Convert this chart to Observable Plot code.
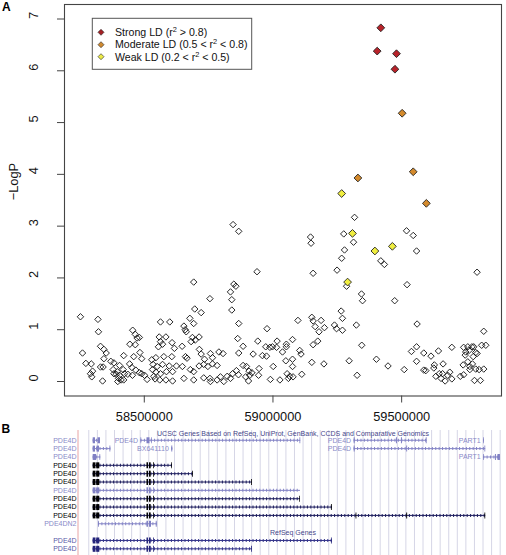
<!DOCTYPE html>
<html><head><meta charset="utf-8">
<script src="https://cdn.jsdelivr.net/npm/d3@7"></script>
<script src="https://cdn.jsdelivr.net/npm/@observablehq/plot@0.6"></script>
<style>
body{margin:0;background:#fff;font-family:"Liberation Sans",Arial,Helvetica,sans-serif;}
#wrap{position:relative;width:506px;height:555px;overflow:hidden;background:#fff;}
#a,#b{position:absolute;left:0;}
#a{top:0;} #b{top:430px;}
#over{position:absolute;left:0;top:0;pointer-events:none;}
</style></head><body>
<div id="wrap"><div id="a"></div><div id="b"></div>
<svg id="over" width="506" height="555" font-family="Liberation Sans, Arial, Helvetica, sans-serif">
  <text x="2" y="10.5" font-size="12" font-weight="bold">A</text>
  <text x="1.5" y="432.8" font-size="12" font-weight="bold">B</text>
  <rect x="92.3" y="18.3" width="159.4" height="51" fill="#fff" stroke="#555" stroke-width="1"/>
  <g font-size="10.6" fill="#111">
    <path d="M101 29.3 L104 32.3 L101 35.3 L98 32.3 Z" fill="#a52024" stroke="#222" stroke-width="0.6"/>
    <text x="115" y="36">Strong LD (r<tspan dy="-4" font-size="7.4">2</tspan><tspan dy="4"> &gt; 0.8)</tspan></text>
    <path d="M101 41.7 L104 44.7 L101 47.7 L98 44.7 Z" fill="#d08a30" stroke="#222" stroke-width="0.6"/>
    <text x="115" y="48.3">Moderate LD (0.5 &lt; r<tspan dy="-4" font-size="7.4">2</tspan><tspan dy="4"> &lt; 0.8)</tspan></text>
    <path d="M101 53.7 L104 56.7 L101 59.7 L98 56.7 Z" fill="#ecea46" stroke="#222" stroke-width="0.6"/>
    <text x="115" y="60.6">Weak LD (0.2 &lt; r<tspan dy="-4" font-size="7.4">2</tspan><tspan dy="4"> &lt; 0.5)</tspan></text>
  </g>
</svg>
</div>
<script>
// ---------- Panel A data: [position (kb), -log10 P] ----------
const strongLd = [[59419,6.83],[59405,6.38],[59480,6.33],[59474,6.03]];
const moderateLd = [[59502,5.18],[59545,4.05],[59330,3.93],[59596,3.44]];
const weakLd = [[59267,3.63],[59309,2.86],[59396,2.52],[59464,2.61],[59290,1.92]];
const otherSnps = [
 [58252,1.25],[58320,1.20],[58322,0.96],[58455,0.99],[58465,0.91],[58472,0.84],[58481,0.85],[58444,0.72],[58465,0.71],[58330,0.68],
 [58343,0.62],[58352,0.55],[58483,0.56],[58260,0.55],[58420,0.50],[58459,0.48],[58343,0.44],[58490,0.44],[58529,0.42],[58370,0.39],
 [58382,0.36],[58273,0.35],[58294,0.34],[58330,0.28],[58340,0.28],[58404,0.31],[58443,0.34],[58452,0.27],[58299,0.20],[58291,0.15],
 [58379,0.23],[58395,0.19],[58418,0.23],[58467,0.22],[58481,0.17],[58382,0.15],[58391,0.14],[58404,0.12],[58423,0.15],[58436,0.14],
 [58454,0.12],[58490,0.15],[58501,0.12],[58511,0.04],[58400,0.06],[58410,0.03],[58420,0.03],[58338,0.01],[58296,0.09],[58397,0.00],
 [58537,0.10],
 [58845,3.03],[58867,2.90],[58692,1.92],[58848,1.88],[58856,1.84],[58835,1.73],[58755,1.60],[58840,1.58],[58840,1.38],[58696,1.40],
 [58721,1.33],[58677,1.22],[58692,1.12],[58563,1.15],[58599,1.15],[58654,1.07],[58659,1.00],[58663,0.96],[58867,1.12],[58687,0.85],
 [58713,0.86],[58698,0.80],[58682,0.77],[58558,0.86],[58584,0.86],[58563,0.77],[58608,0.75],[58647,0.68],[58555,0.67],[58571,0.72],
 [58617,0.64],[58863,0.83],[58714,0.62],[58721,0.53],[58757,0.54],[58790,0.57],[58806,0.54],[58867,0.55],[58765,0.46],[58734,0.43],
 [58660,0.48],[58666,0.45],[58607,0.48],[58576,0.48],[58545,0.46],[58625,0.30],[58648,0.29],[58679,0.23],[58692,0.19],[58713,0.30],
 [58731,0.33],[58747,0.29],[58765,0.34],[58783,0.31],[58534,0.33],[58550,0.29],[58571,0.33],[58597,0.30],[58532,0.23],[58545,0.18],
 [58563,0.15],[58586,0.19],[58610,0.19],[58654,0.06],[58692,0.03],[58731,0.07],[58755,0.06],[58783,0.03],[58796,0.09],[58822,0.10],
 [58843,0.15],[58858,0.21],[58866,0.13],[58542,0.05],[58584,0.03],[58610,0.01],[58560,0.03],[58757,0.00],[58809,0.00],[58835,0.06],
 [59146,2.79],[59148,2.67],[58938,2.12],[59156,2.09],[59097,1.18],[59151,1.24],[59156,1.17],[59187,1.18],[59164,1.06],[59179,0.96],
 [59200,1.04],[58977,1.02],[59174,0.78],[59156,0.71],[58884,0.68],[58941,0.78],[59016,0.78],[58998,0.67],[59014,0.66],[58972,0.67],
 [58988,0.66],[59076,0.81],[59052,0.72],[59052,0.67],[59037,0.57],[59104,0.60],[59109,0.53],[58923,0.53],[58959,0.50],[58975,0.49],
 [58884,0.31],[58897,0.29],[58907,0.20],[58918,0.17],[58910,0.12],[58894,0.09],[58905,0.01],[58946,0.25],[58944,0.12],[59001,0.29],
 [59050,0.40],[59076,0.43],[59076,0.29],[59055,0.15],[59065,0.10],[59078,0.09],[59060,0.06],[59112,0.14],[59151,0.37],[59198,0.34],
 [58990,0.04],[59027,0.03],
 [59317,3.17],[59275,2.85],[59313,2.69],[59278,2.54],[59267,2.38],[59249,2.15],[59419,2.33],[59433,2.26],[59519,2.91],[59286,1.84],
 [59521,1.87],[59344,1.69],[59348,1.56],[59473,1.56],[59265,1.36],[59270,1.22],[59239,1.09],[59247,1.02],[59270,0.99],[59324,1.09],
 [59345,0.70],[59296,0.40],[59402,0.43],[59447,0.30],[59510,0.23],[59327,0.12],[59538,0.58],
 [59545,2.82],[59558,2.52],[59793,2.11],[59560,1.11],[59819,0.97],[59811,0.70],[59827,0.70],[59780,0.67],[59558,0.67],[59586,0.55],
 [59614,0.49],[59643,0.59],[59695,0.66],[59741,0.66],[59757,0.67],[59773,0.67],[59749,0.57],[59762,0.60],[59788,0.56],[59793,0.54],
 [59747,0.51],[59778,0.48],[59558,0.39],[59661,0.34],[59627,0.32],[59586,0.22],[59594,0.21],[59625,0.26],[59646,0.15],[59659,0.15],
 [59633,0.10],[59653,0.06],[59679,0.12],[59687,0.18],[59695,0.05],[59669,0.01],[59728,0.10],[59741,0.13],[59739,0.32],[59757,0.38],
 [59765,0.29],[59775,0.34],[59788,0.24],[59765,0.23],[59801,0.23],[59819,0.24],[59783,0.02],[59806,0.02]
];
const xTicks = [58500000, 59000000, 59500000];
const yTicks = [0, 1, 2, 3, 4, 5, 6, 7];
const yLabel = "\u2212LogP";

// ---------- Panel B data (gene tracks, positions in kb) ----------
const trackHeaders = [[-0.84, "UCSC Genes Based on RefSeq, UniProt, GenBank, CCDS and Comparative Genomics"], [11.1, "RefSeq Genes"]];
const rowNames = [[0,"PDE4D","ucsc"],[1,"PDE4D","ucsc"],[2,"PDE4D","ucsc"],[3,"PDE4D","known"],[4,"PDE4D","known"],[5,"PDE4D","known"],
  [6,"PDE4D","ucsc"],[7,"PDE4D","known"],[8,"PDE4D","known"],[9,"PDE4D","known"],[10,"PDE4DN2","ucsc"],[12,"PDE4D","refseq"],[13,"PDE4D","refseq"]];
// [row, start, end, inline label]
const geneSpans = [
  [0,58301.5,58329.9,""],[0,58487.2,59108.0,"PDE4D"],[0,59315.5,59599.1,"PDE4D"],[0,59818.9,59821.7,"PART1"],
  [1,58301.5,58369.9,""],[1,58606.9,58610.7,"BX641110"],[1,59315.5,59826.7,"PDE4D"],
  [2,58301.5,58330.6,""],[2,59818.9,59883.9,"PART1"],
  [3,58301.5,58609.2,""],[4,58301.5,58691.2,""],[5,58301.5,58920.4,""],[6,58301.5,59106.9,""],
  [7,58301.5,59106.9,""],[8,58301.5,59230.4,""],[9,58301.5,59826.7,""],[10,58322.1,58550.1,""],
  [12,58301.5,59230.4,""],[13,58301.5,58920.4,""]
];
const isoformRows = [3,4,5,6,7,8,9,12,13];
const sharedExons = [[58301.5,58312.4],[58315.1,58327.1],[58510.5,58516.3],[58520.2,58526.8],[58535.8,58538.9]];
// [row, start, end]
const otherExons = [
  [0,58301.5,58310.4],[0,58320.1,58329.9],[0,58487.2,58489.9],[0,58510.5,58522.2],[0,58529.2,58531.9],[0,59104.9,59108.0],
  [0,59315.5,59319.4],[0,59479.8,59483.7],[0,59499.2,59503.1],[0,59595.6,59599.1],[0,59818.9,59821.7],
  [1,58301.5,58310.4],[1,58316.3,58326.0],[1,58366.8,58369.9],[1,58606.9,58610.7],[1,59315.5,59319.4],[1,59519.8,59523.3],[1,59823.6,59826.7],
  [2,58301.5,58315.1],[2,58327.9,58330.6],[2,59818.9,59821.7],[2,59864.4,59868.3],[2,59874.2,59883.9],
  [3,58606.5,58609.2],[4,58688.1,58691.2],[5,58917.3,58920.4],[7,59104.1,59106.9],[8,59227.3,59230.4],
  [9,59322.9,59326.0],[9,59519.8,59523.3],[9,59823.6,59826.7],[12,59227.3,59230.4],[13,58917.3,58920.4],
  [10,58322.1,58325.2],[10,58510.5,58516.3],[10,58520.2,58528.0],[10,58546.6,58550.1]
];
const gridStartKb = 58284.4, gridStepKb = 33.3;

// ---------- build ----------
const font = "Liberation Sans, Arial, Helvetica, sans-serif";
const toBp = v => v * 1000;
const xDomain = [58190000, 59888000];
const pt = arr => arr.map(([p, v]) => ({pos: toBp(p), logP: v}));

const chartA = Plot.plot({
  width: 506, height: 430,
  marginLeft: 64, marginRight: 5, marginTop: 4, marginBottom: 34.5,
  style: {fontFamily: font, fontSize: "12.8px", background: "white", color: "#111"},
  x: {domain: xDomain},
  y: {domain: [-0.28, 7.28]},
  marks: [
    Plot.axisX({ticks: xTicks, tickSize: 7, tickPadding: 9, tickFormat: "d", label: null, stroke: "#444"}),
    Plot.axisY({ticks: yTicks, tickSize: 7, tickFormat: () => "", label: null, stroke: "#444"}),
    Plot.text(yTicks, {y: d => d, text: d => String(d), frameAnchor: "left", dx: -31, rotate: -90, fontSize: 12.8}),
    Plot.text([yLabel], {text: d => d, frameAnchor: "left", dx: -51, rotate: -90, fontSize: 12.8}),
    Plot.dot(pt(otherSnps), {x: "pos", y: "logP", symbol: "diamond2", r: 2.9, fill: "none", stroke: "#111", strokeWidth: 0.9}),
    Plot.dot(pt(weakLd), {x: "pos", y: "logP", symbol: "diamond2", r: 3.5, fill: "#f0ee40", stroke: "#222", strokeWidth: 0.9}),
    Plot.dot(pt(moderateLd), {x: "pos", y: "logP", symbol: "diamond2", r: 3.5, fill: "#d48a2c", stroke: "#222", strokeWidth: 0.9}),
    Plot.dot(pt(strongLd), {x: "pos", y: "logP", symbol: "diamond2", r: 3.5, fill: "#b8232a", stroke: "#222", strokeWidth: 0.9}),
    Plot.frame({stroke: "#444", strokeWidth: 1.1})
  ]
});
document.getElementById("a").appendChild(chartA);

const kindOf = new Map(rowNames.map(([r, , k]) => [r, k]));
const labelColor = {ucsc: "#8a8ac8", known: "#000", refseq: "#5a5aa8"};
const lineColor = {ucsc: "#8484c6", known: "#1e1e5e", refseq: "#34348a"};
const exonColor = {ucsc: "#8080c4", known: "#000", refseq: "#24247a"};

const genes = geneSpans.map(([row, s, e, label]) => ({row, start: toBp(s), end: toBp(e), label, kind: kindOf.get(row)}));
const exons = [
  ...isoformRows.flatMap(row => sharedExons.map(([s, e]) => ({row, start: toBp(s), end: toBp(e)}))),
  ...otherExons.map(([row, s, e]) => ({row, start: toBp(s), end: toBp(e)}))
].map(d => ({...d, kind: kindOf.get(d.row)}));
const grid = d3.range(toBp(gridStartKb), xDomain[1] + 20000, toBp(gridStepKb));

const chartB = Plot.plot({
  width: 506, height: 125,
  marginLeft: 64, marginRight: 5, marginTop: 0, marginBottom: 0,
  style: {fontFamily: font, background: "transparent"},
  x: {domain: xDomain, axis: null},
  y: {domain: [-1.17, 13.8], range: [0, 125], axis: null},
  marks: [
    Plot.ruleX(grid, {x: d => d, stroke: "#d6d6e6", strokeWidth: 1}),
    Plot.ruleX([xDomain[0]], {dx: 13.5, stroke: "#e8a4a4", strokeWidth: 1}),
    Plot.text(trackHeaders, {y: d => d[0], text: d => d[1], frameAnchor: "middle", dx: 10, fontSize: 7, fill: "#46468a"}),
    Plot.text(rowNames, {y: d => d[0], text: d => d[1], frameAnchor: "left", dx: 12, textAnchor: "end", fontSize: 7, fill: d => labelColor[d[2]]}),
    Plot.ruleY(genes, {y: "row", x1: "start", x2: "end", stroke: d => lineColor[d.kind], strokeWidth: 1}),
    Plot.ruleY(genes, {y: "row", x1: "start", x2: "end", stroke: d => lineColor[d.kind], strokeWidth: 3, strokeDasharray: "1 2.4"}),
    Plot.ruleY(exons, {y: "row", x1: "start", x2: "end", stroke: d => exonColor[d.kind], strokeWidth: 6}),
    Plot.text(genes.filter(g => g.label), {x: "start", y: "row", text: "label", dx: -3, textAnchor: "end", fontSize: 7, fill: "#8a8ac8"})
  ]
});
document.getElementById("b").appendChild(chartB);
</script>
</body></html>
